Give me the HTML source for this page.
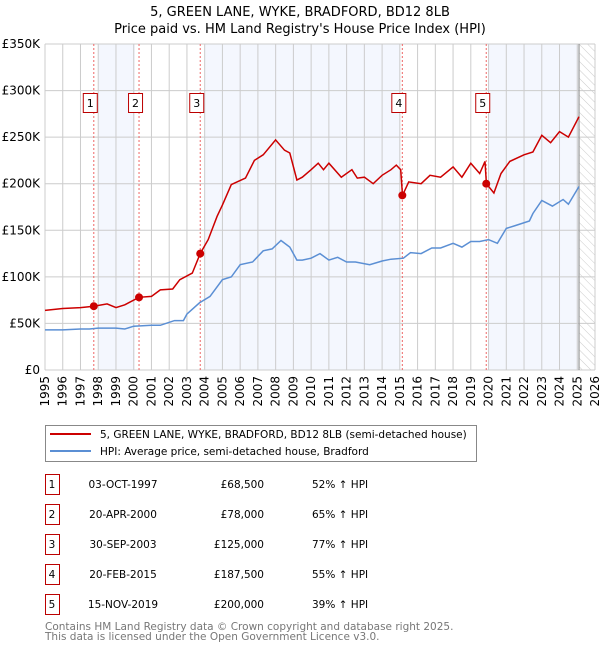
<!DOCTYPE html>
<html><head><meta charset="utf-8"><style>
body{margin:0;background:#fff;font-family:"DejaVu Sans","Liberation Sans",sans-serif;}
svg text{font-family:"DejaVu Sans","Liberation Sans",sans-serif;}
</style></head><body>
<svg id="c" width="600" height="650" viewBox="0 0 600 650">
<defs><pattern id="hatch" width="6" height="6" patternUnits="userSpaceOnUse" patternTransform="rotate(-45)"><line x1="0" y1="0" x2="0" y2="6" stroke="#ccc" stroke-width="1"/></pattern></defs>
<text x="300" y="16" text-anchor="middle" font-size="13">5, GREEN LANE, WYKE, BRADFORD, BD12 8LB</text>
<text x="300" y="33" text-anchor="middle" font-size="13">Price paid vs. HM Land Registry's House Price Index (HPI)</text>
<g id="plot"></g>
<g>
<rect x="45.5" y="425.5" width="431" height="36" fill="#fff" stroke="#888"/>
<line x1="50" y1="434" x2="91" y2="434" stroke="#cc0000" stroke-width="2"/>
<text x="100" y="438" font-size="10.5">5, GREEN LANE, WYKE, BRADFORD, BD12 8LB (semi-detached house)</text>
<line x1="50" y1="451" x2="91" y2="451" stroke="#5b8fd4" stroke-width="2"/>
<text x="100" y="455" font-size="10.5">HPI: Average price, semi-detached house, Bradford</text>
</g>
<g id="table"></g>
<text x="45" y="630" font-size="10.5" fill="#777">Contains HM Land Registry data © Crown copyright and database right 2025.</text>
<text x="45" y="640" font-size="10.5" fill="#777">This data is licensed under the Open Government Licence v3.0.</text>
</svg>
<script>
const yTicks=[0,50,100,150,200,250,300,350];
const yTickLabels=["£0","£50K","£100K","£150K","£200K","£250K","£300K","£350K"];
const years=[1995,1996,1997,1998,1999,2000,2001,2002,2003,2004,2005,2006,2007,2008,2009,2010,2011,2012,2013,2014,2015,2016,2017,2018,2019,2020,2021,2022,2023,2024,2025,2026];
const hpiT=[1995,1996,1997,1997.5,1998,1999,1999.5,2000,2001,2001.5,2002.3,2002.8,2003,2003.7,2004.3,2005,2005.5,2006,2006.7,2007.3,2007.8,2008.3,2008.8,2009.2,2009.5,2010,2010.5,2011,2011.5,2012,2012.5,2013.3,2014,2014.5,2015.2,2015.6,2016.2,2016.8,2017.3,2018,2018.5,2019,2019.5,2020,2020.5,2021,2021.5,2022.3,2022.5,2023,2023.6,2024.2,2024.5,2025.1];
const hpiV=[43,43,44,44,45,45,44,47,48,48,53,53,60,72,79,97,100,113,116,128,130,139,132,118,118,120,125,118,121,116,116,113,117,119,120,126,125,131,131,136,132,138,138,140,136,152,155,160,168,182,176,183,178,197];
const propT=[1995,1996,1997,1997.75,1998.5,1999,1999.5,2000.3,2001,2001.5,2002.2,2002.6,2003.3,2003.75,2004.2,2004.7,2005,2005.5,2006.3,2006.8,2007.3,2008,2008.5,2008.8,2009.2,2009.5,2010,2010.4,2010.7,2011,2011.7,2012.3,2012.6,2013,2013.5,2014,2014.5,2014.8,2015.05,2015.15,2015.5,2016.2,2016.7,2017.3,2018,2018.5,2019,2019.5,2019.8,2019.88,2020.3,2020.7,2021.2,2022,2022.5,2023,2023.5,2024,2024.5,2025.1];
const propV=[64,66,67,68.5,71,67,70,78,79,86,87,97,104,125,140,165,177,199,206,225,231,247,236,233,204,207,215,222,215,222,207,215,206,207,200,209,215,220,215,187.5,202,200,209,207,218,207,222,211,224,200,190,211,224,231,234,252,244,256,250,272];
const saleT=[1997.75,2000.3,2003.75,2015.14,2019.87];
const saleV=[68.5,78,125,187.5,200];
const saleLabels=["1","2","3","4","5"];
const saleDates=["03-OCT-1997","20-APR-2000","30-SEP-2003","20-FEB-2015","15-NOV-2019"];
const salePrices=["£68,500","£78,000","£125,000","£187,500","£200,000"];
const salePct=["52% ↑ HPI","65% ↑ HPI","77% ↑ HPI","55% ↑ HPI","39% ↑ HPI"];
const shadeStart=[1998.0,2003.96,2019.97];
const shadeEnd=[2000.07,2015.0,2025.1];

const NS="http://www.w3.org/2000/svg";
const X0=45,X1=595,Y0=370,Y1=44;
const x=t=>X0+(t-1995)*(X1-X0)/31;
const y=v=>Y0-v*(Y0-Y1)/350;
const g=document.getElementById('plot');
function mk(tag,attrs,parent){const e=document.createElementNS(NS,tag);for(const k in attrs)e.setAttribute(k,attrs[k]);(parent||g).appendChild(e);return e;}
for(let i=0;i<shadeStart.length;i++){
 const r=mk('rect',{x:x(shadeStart[i]),y:Y1,width:x(shadeEnd[i])-x(shadeStart[i]),height:Y0-Y1,fill:'#f4f7fe'});
 
 
}
const hz=mk('rect',{x:x(2025.1),y:Y1,width:X1-x(2025.1),height:Y0-Y1,fill:'url(#hatch)'});


years.forEach(yr=>{
 const l=mk('line',{x1:x(yr),x2:x(yr),y1:Y1,y2:Y0,stroke:'#ccc','stroke-width':1});
 
 
 const t=mk('text',{x:0,y:0,'font-size':12,'text-anchor':'end',transform:`translate(${x(yr)+4},${Y0+6}) rotate(-90)`});
 t.textContent=yr;
 
 
});
yTicks.forEach((v,i)=>{
 const l=mk('line',{x1:X0,x2:X1,y1:y(v),y2:y(v),stroke:'#ccc','stroke-width':1});
 
 
 const t=mk('text',{x:40,y:y(v)+4,'font-size':12,'text-anchor':'end'});
 t.textContent=yTickLabels[i];
 
 
});
const nl=mk('line',{x1:x(2025.1),x2:x(2025.1),y1:Y1,y2:Y0,stroke:'#999','stroke-width':1.2});


saleT.forEach((t,i)=>{
 const l=mk('line',{x1:x(t),x2:x(t),y1:Y1,y2:Y0,stroke:'#e66','stroke-width':1,'stroke-dasharray':'2,2'});
 
 
});
const pts=(T,V)=>T.map((t,i)=>x(t).toFixed(1)+','+y(V[i]).toFixed(1)).join(' ');
const hl=mk('polyline',{points:pts(hpiT,hpiV),fill:'none',stroke:'#5b8fd4','stroke-width':1.5});


const pl=mk('polyline',{points:pts(propT,propV),fill:'none',stroke:'#cc0000','stroke-width':1.5});


saleT.forEach((t,i)=>{
 const c=mk('circle',{cx:x(t),cy:y(saleV[i]),r:4,fill:'#cc0000'});
 
 
 const b=mk('rect',{x:x(t)-10.5,y:93.5,width:14,height:19,fill:'#fff',stroke:'#b00','stroke-width':1});
 
 
 const tx=mk('text',{x:x(t)-3.5,y:107,'font-size':11,'text-anchor':'middle'});
 tx.textContent=saleLabels[i];
 
 
});
const tb=document.getElementById('table');
saleLabels.forEach((s,i)=>{
 const cy=483+i*30;
 const b=mk('rect',{x:45.5,y:cy-8.5,width:14,height:20,fill:'#fff',stroke:'#b00'},tb);
 
 
 const cells=[[s,52,'middle'],[saleDates[i],123,'middle'],[salePrices[i],264,'end'],[salePct[i],312,'start']];
 cells.forEach(c=>{
  const t=mk('text',{x:c[1],y:cy+5,'font-size':10.5,'text-anchor':c[2]},tb);
  t.textContent=c[0];
  
  
 });
});
</script>
</body></html>
